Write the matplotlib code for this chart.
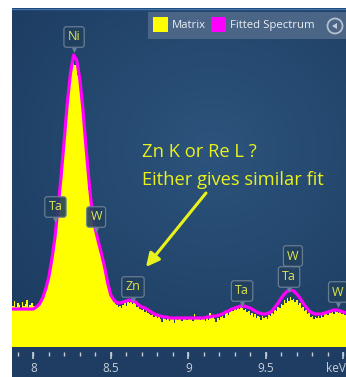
import numpy as np
import matplotlib.pyplot as plt
from matplotlib.patches import Rectangle, Circle, Polygon

plt.rcParams['font.family'] = ['Open Sans', 'DejaVu Sans']

# measured spectrum, 10 eV channels starting at 7.86 keV
e_start, e_step = 7.86, 0.01
counts = [
    43, 41, 46, 40,
    44, 42, 39, 45, 41, 43, 47, 40, 42, 44,
    41, 41, 42, 43, 45, 47, 50, 54, 58, 64,
    70, 78, 87, 98, 109, 123, 138, 154, 170, 188,
    205, 224, 241, 258, 270, 279, 284, 282, 281, 272,
    262, 248, 233, 218, 200, 178, 157, 143, 132, 124,
    116, 110, 104, 98, 91, 85, 78, 70, 62, 56,
    51, 48, 45, 43, 42, 40, 41, 39, 42, 44,
    41, 45, 44, 46, 43, 44, 45, 40, 42, 38,
    37, 38, 35, 36, 34, 33, 32, 33, 30, 31,
    29, 30, 28, 25, 29, 28, 27, 30, 26, 29,
    28, 24, 29, 27, 30, 28, 26, 28, 29, 27,
    28, 30, 29, 26, 33, 29, 28, 30, 27, 29,
    28, 26, 29, 27, 34, 29, 30, 28, 25, 29,
    27, 30, 31, 29, 33, 34, 32, 35, 37, 36,
    38, 37, 40, 38, 41, 39, 37, 38, 35, 36,
    32, 34, 30, 33, 29, 31, 30, 27, 31, 29,
    30, 28, 32, 31, 34, 33, 37, 36, 40, 39,
    43, 42, 47, 44, 49, 46, 50, 47, 48, 45,
    47, 42, 44, 39, 40, 36, 37, 33, 34, 30,
    31, 28, 30, 29, 31, 29, 32, 30, 33, 34,
    32, 35, 34, 36, 33, 36, 35, 34, 36, 33,
    34, 32, 33,
]

# fitted spectrum, 20 eV steps starting at 7.86 keV
fit_start, fit_step = 7.86, 0.02
fit = [
    38, 38, 38, 38, 38, 38, 38,
    38, 40, 43, 49, 58, 70, 88, 110, 140, 172,
    208, 245, 274, 292, 287, 268, 238, 200, 165, 134,
    118, 105, 93, 80, 64, 52, 47, 44, 44, 45,
    46, 47, 46, 45, 42, 40, 39, 37, 35, 33,
    32, 31, 30, 30, 29, 29, 29, 29, 29, 29,
    29, 29, 29, 29, 29, 29, 30, 30, 31, 31,
    32, 33, 35, 36, 38, 39, 40, 41, 41, 40,
    39, 37, 35, 34, 33, 33, 34, 36, 40, 44,
    49, 53, 56, 57, 56, 53, 49, 44, 40, 36,
    34, 33, 33, 33, 34, 35, 36, 37, 37, 36,
    35, 34,
]

# identified lines
line_names = ['Ni', 'Ta', 'W', 'Zn', 'Ta', 'W', 'Ta', 'W']
line_energies = [8.263, 8.143, 8.405, 8.643, 9.347, 9.675, 9.650, 9.966]
label_heights = [310, 140, 130, 60, 56, 91, 70, 55]

tick_major = [8, 8.5, 9, 9.5]
tick_labels = ['8', '8.5', '9', '9.5']
legend_names = ['Matrix', 'Fitted Spectrum']
legend_colors = ['#ffff00', '#ff00ff']

note_lines = ['Zn K or Re L ?', 'Either gives similar fit']

W, H = 346, 377
fig = plt.figure(figsize=(W / 100, H / 100), dpi=100)
fig.patch.set_facecolor('white')


def px_rect(x0, y0, x1, y1):
    return [x0 / W, 1 - y1 / H, (x1 - x0) / W, (y1 - y0) / H]


# panel background with soft radial shading
bg = fig.add_axes(px_rect(12, 8, 346, 377))
bg.set_axis_off()
yy, xx = np.mgrid[0:369, 0:334]
t = np.clip(np.hypot((xx - 200) / 280.0, (yy - 140) / 260.0), 0, 1)[..., None]
c_in = np.array([0x2c, 0x54, 0x7c]) / 255.0
c_out = np.array([0x1c, 0x3a, 0x5f]) / 255.0
bg.imshow(c_in * (1 - t) + c_out * t, aspect='auto', extent=[0, 334, 369, 0])
bg.add_patch(Rectangle((0, 339), 334, 30, color='#1f3c62', lw=0))
bg.plot([0, 334], [0.5, 0.5], color='#3c74b4', lw=1)
bg.set_xlim(0, 334)
bg.set_ylim(369, 0)

# spectrum axes
ax = fig.add_axes(px_rect(12, 8, 346, 347))
ax.patch.set_alpha(0)
ax.set_axis_off()
xmin, xmax = 8 - 21.3 / 155, 8 + 312.7 / 155
ax.set_xlim(xmin, xmax)
ax.set_ylim(0, 339)

energy = e_start + e_step * np.arange(len(counts))
fit_e = fit_start + fit_step * np.arange(len(fit))
ax.fill_between(energy, counts, 0, step='mid', color='#ffff00', lw=0)
ax.plot(fit_e, fit, color='#ff00ff', lw=2.3, solid_joinstyle='round')

# element markers
for name, e, h in zip(line_names, line_energies, label_heights):
    ax.text(e, h, name, ha='center', va='center', fontsize=9, color='#dfe650',
            bbox=dict(boxstyle='round,pad=0.3,rounding_size=0.2',
                      fc='#22405e', ec='#6f8398', lw=0.9, alpha=0.9))
    ax.plot(e, h - 12.5, marker='v', ms=3.5, color='#6f8398', mec='none')

# annotation
ax.annotate('', xy=(8.727, 80), xytext=(9.114, 154),
            arrowprops=dict(arrowstyle='-|>,head_length=0.8,head_width=0.4',
                            color='#eaf21c', lw=2.2, shrinkA=0, shrinkB=0))
for i, s in enumerate(note_lines):
    ax.text(8.700, 195 - 28 * i, s, ha='left', va='center', fontsize=13.2,
            color='#eaf21c')

# energy axis band
tk = fig.add_axes(px_rect(12, 347, 346, 377))
tk.patch.set_alpha(0)
tk.set_axis_off()
tk.set_xlim(xmin, xmax)
tk.set_ylim(30, 0)
minor = np.arange(7.9, 10.05, 0.1)
tk.vlines(minor, 5.3, 8.7, color='#c4ccd6', lw=1)
tk.vlines(tick_major + [10], 4.7, 12.3, color='#c4ccd6', lw=1.2)
for v, s in zip(tick_major, tick_labels):
    tk.text(v, 21, s, ha='center', va='center', fontsize=8.5, color='#c8d0da')
tk.text(xmax - 0.003, 21, 'keV', ha='right', va='center', fontsize=8.5,
        color='#c8d0da')

# legend strip
ov = fig.add_axes([0, 0, 1, 1])
ov.patch.set_alpha(0)
ov.set_axis_off()
ov.set_xlim(0, W)
ov.set_ylim(H, 0)
ov.add_patch(Rectangle((148, 12), 198, 27, color='#4b6586', lw=0))
lx = [153, 211]
tx = [172, 230]
for x0, x1, name, c in zip(lx, tx, legend_names, legend_colors):
    ov.add_patch(Rectangle((x0, 17), 15, 15, color=c, lw=0))
    ov.text(x1, 25.5, name, ha='left', va='center', fontsize=8.2, color='#e8eef4')
ov.add_patch(Circle((335, 26), 7.5, fill=False, ec='#b4c0ce', lw=1.3))
ov.add_patch(Polygon([[332, 26], [337, 23], [337, 29]], closed=True,
                     color='#c4ccd8', lw=0))

fig.savefig('out.png', dpi=100)
